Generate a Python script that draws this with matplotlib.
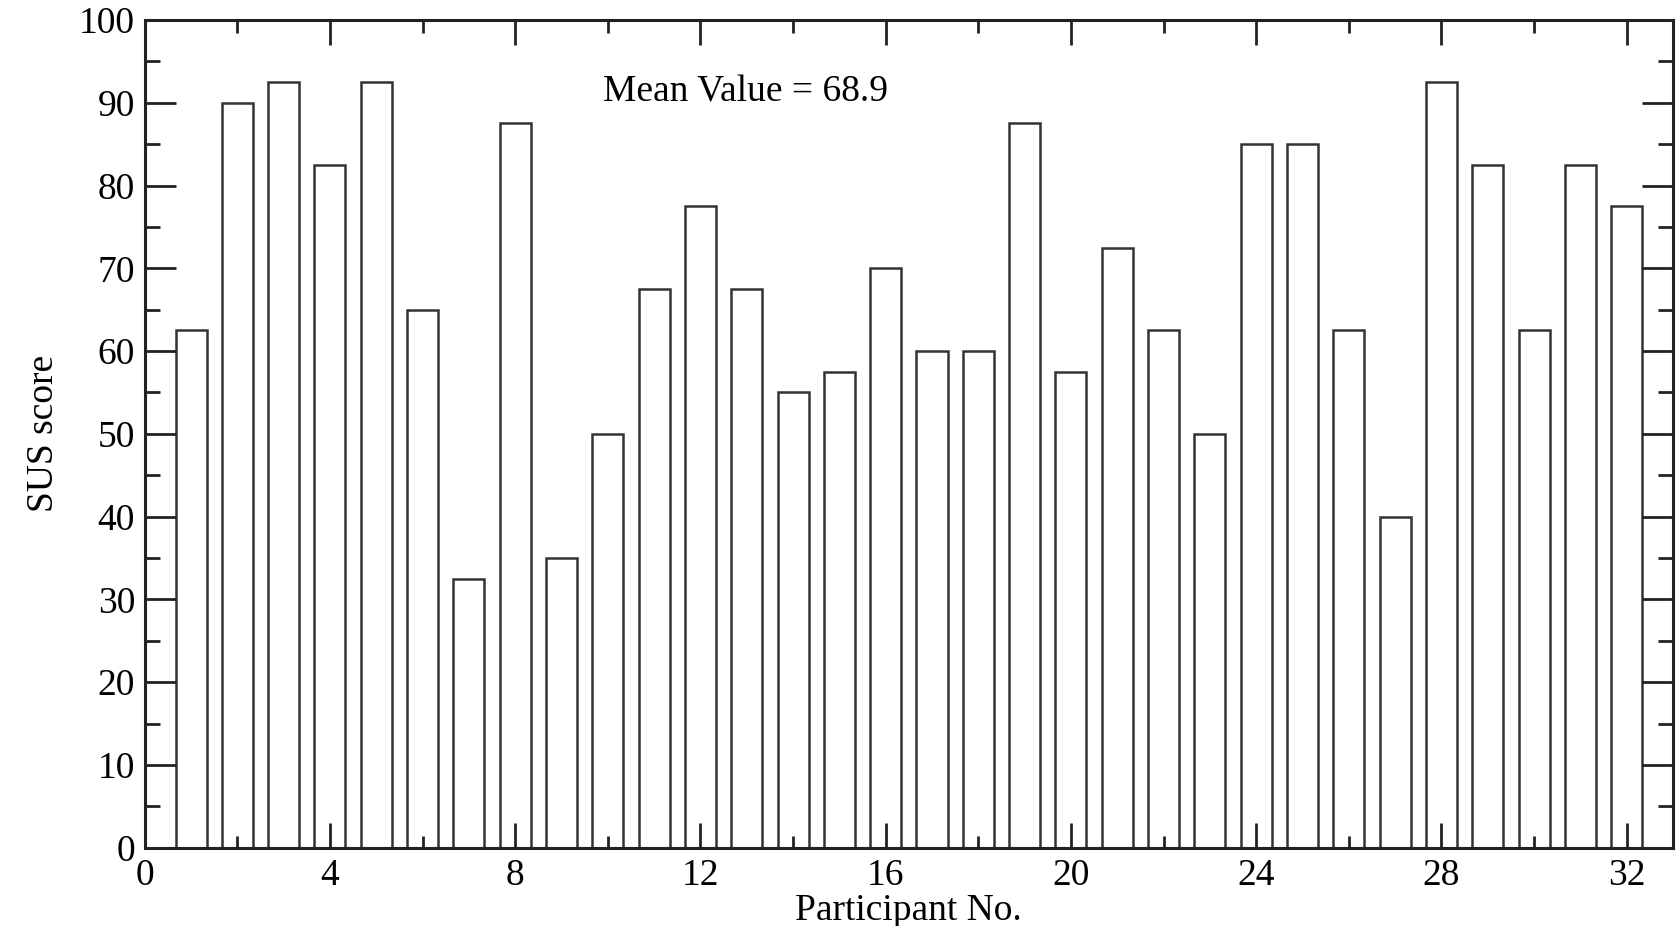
import numpy as np
import matplotlib
matplotlib.use("Agg")
from matplotlib import pyplot as plt
from matplotlib.ticker import MultipleLocator

# SUS scores per participant
participants = list(range(1, 33))
sus_scores = [62.5, 90, 92.5, 82.5, 92.5, 65, 32.5, 87.5, 35, 50,
              67.5, 77.5, 67.5, 55, 57.5, 70, 60, 60, 87.5, 57.5,
              72.5, 62.5, 50, 85, 85, 62.5, 40, 92.5, 82.5, 62.5,
              82.5, 77.5]
mean_value = np.mean(sus_scores)

plt.rcParams["font.family"] = ["Liberation Serif", "DejaVu Serif"]
FS = 27

fig = plt.figure(figsize=(16.79, 9.26), dpi=100)
ax = fig.add_axes([0.0862, 0.0846, 0.9102, 0.8938])

ax.bar(participants, sus_scores, width=0.67, color="white",
       edgecolor="#333333", linewidth=1.8)

ax.set_xlim(0, 33)
ax.set_ylim(0, 100)
ax.xaxis.set_major_locator(MultipleLocator(4))
ax.xaxis.set_minor_locator(MultipleLocator(2))
ax.yaxis.set_major_locator(MultipleLocator(10))
ax.yaxis.set_minor_locator(MultipleLocator(5))

ax.tick_params(axis="both", which="both", direction="in",
               top=True, right=True, labelsize=FS, width=2, color="#222222")
ax.tick_params(axis="y", which="major", length=22, pad=7)
ax.tick_params(axis="y", which="minor", length=11)
ax.tick_params(axis="x", which="major", length=18, pad=8)
ax.tick_params(axis="x", which="minor", length=9)

for s in ax.spines.values():
    s.set_linewidth(2.2)
    s.set_color("#222222")

ax.set_xlabel("Participant No.", fontsize=FS, labelpad=0)
ax.set_ylabel("SUS score", fontsize=FS, labelpad=13)

ax.text(9.9, 91.3, "Mean Value = %.1f" % mean_value, fontsize=FS,
        ha="left", va="center")

fig.savefig("out.png", dpi=100)
